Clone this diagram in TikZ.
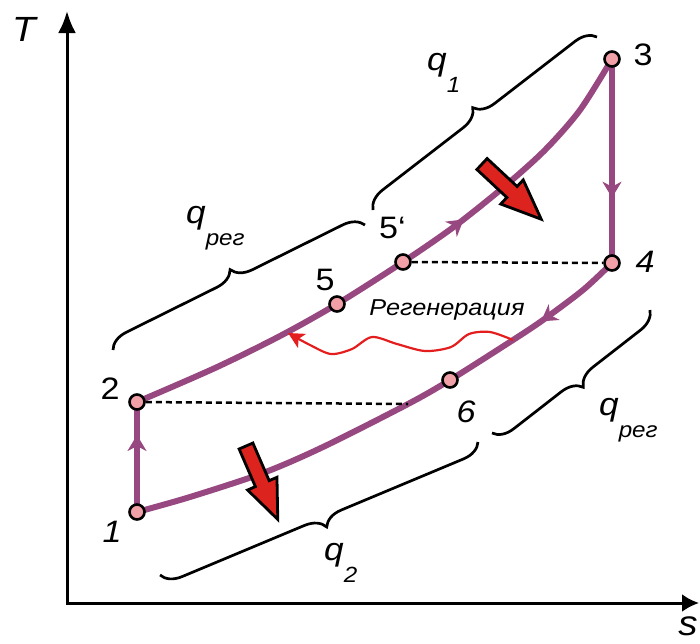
\documentclass[tikz,border=0pt]{standalone}
\usepackage{fontspec}
\setmainfont{Liberation Sans}[FakeStretch=1.1]
\usetikzlibrary{arrows.meta,decorations.pathreplacing,decorations.markings}
\definecolor{cycpurple}{RGB}{152,72,128}
\definecolor{ptpink}{RGB}{240,160,166}
\definecolor{arrred}{RGB}{220,35,30}
\definecolor{wavered}{RGB}{228,30,30}
\tikzset{
  cyc/.tip={Stealth[length=16pt,width=19pt,inset=5pt]},
  cycline/.style={line width=6pt, color=cycpurple},
  arrmark/.style={postaction={decorate}, decoration={markings, mark=at position #1 with {\arrow{cyc}}}},
  ptnode/.style={circle, draw=black, fill=ptpink, line width=2.6pt, inner sep=0pt, minimum size=15pt},
  brc/.style={draw=black, line width=2.7pt, decorate, decoration={brace, amplitude=20pt}},
  brcm/.style={draw=black, line width=2.7pt, decorate, decoration={brace, mirror, amplitude=20pt}},
  dsh/.style={draw=black, line width=2.5pt, dash pattern=on 6pt off 4pt},
  lab/.style={inner sep=0pt, font=\fontsize{31}{31}\selectfont},
  labi/.style={inner sep=0pt, font=\fontsize{31}{31}\selectfont\itshape},
  axlab/.style={inner sep=0pt, font=\fontsize{35}{35}\selectfont\itshape},
  qlab/.style={anchor=base west, inner sep=0pt, font=\fontsize{32}{32}\selectfont\itshape},
  redarrow/.style={fill=arrred, draw=black, line width=2.8pt, line join=miter},
  redwave/.style={draw=wavered, line width=2.2pt},
  axis/.style={draw=black, line width=3pt},
}
\newcommand{\qsub}[1]{\raisebox{-22pt}{\fontsize{22}{22}\selectfont\itshape #1}}
\begin{document}
\begin{tikzpicture}[x=1pt,y=-1pt]
\useasboundingbox (0,0) rectangle (700,643);

% axes
\coordinate (o) at (67,603);
\coordinate (ty) at (67,11);
\coordinate (sx) at (699,603);
\draw[axis, {Latex[length=22pt,width=18pt]}-{Latex[length=17pt,width=18pt]}] (ty) -- (o) -- (sx);
\node[axlab] (T) at (24,29) {T};
\node[axlab] (s) at (688,626) {s};

% cycle points
\coordinate (p1) at (137,512);
\coordinate (p2) at (137,402);
\coordinate (p3) at (612,59);
\coordinate (p4) at (612,263);
\coordinate (p5) at (337,304);
\coordinate (p5p) at (403,262);
\coordinate (p6) at (450,380);
\coordinate (d6) at (408,404);

% braces
\draw[brc] (373,210) -- (597,37);
\draw[brc] (113,350) -- (365,225);
\draw[brcm] (492,433) -- (650,310);
\draw[brcm] (160,575) -- (478,442);

% cycle lines
\draw[cycline, arrmark=0.63] plot[smooth] coordinates {(p2) (215,368) (280,336) (p5) (p5p) (455,226) (505,186) (545,150) (580,110) (p3)};
\draw[cycline, arrmark=0.68] (p3) -- (p4);
\draw[cycline, arrmark=0.17] plot[smooth] coordinates {(p4) (583,290) (543,320) (513,340) (p6) (d6) (323,447) (263,473) (190,497) (p1)};
\draw[cycline, arrmark=0.70] (p1) -- (p2);

% regeneration wave
\coordinate (w1) at (513,340);
\coordinate (w2) at (288,333);
\draw[redwave, -{Stealth[length=16pt,width=16pt,inset=4pt]}] plot[smooth] coordinates {(w1) (490,332) (469,334) (451,347) (425,351) (397,344) (372,337) (352,349) (331,354) (310,345) (w2)};
\node[inner sep=0pt, anchor=base, font=\fontsize{23}{23}\selectfont\itshape] (reg) at (447,315) {Регенерация};

% block arrows
\begin{scope}[shift={(482,164)}, rotate=-43]
  \draw[redarrow] (0,-7.5) -- (41,-7.5) -- (41,-16.5) -- (81,0) -- (41,16.5) -- (41,7.5) -- (0,7.5) -- cycle;
\end{scope}
\begin{scope}[shift={(246,446)}, rotate=-66.6]
  \draw[redarrow] (0,-7.5) -- (41,-7.5) -- (41,-16) -- (80,0) -- (41,16) -- (41,7.5) -- (0,7.5) -- cycle;
\end{scope}

% point markers
\node[ptnode] (n1) at (p1) {};
\node[ptnode] (n2) at (p2) {};
\node[ptnode] (n3) at (p3) {};
\node[ptnode] (n4) at (p4) {};
\node[ptnode] (n5) at (p5) {};
\node[ptnode] (n5p) at (p5p) {};
\node[ptnode] (n6) at (p6) {};

% dashed lines
\draw[dsh] (n2) -- (d6);
\draw[dsh] (n5p) -- (n4);

% point labels
\node[labi] (l1) at (112,532) {1};
\node[lab] (l2) at (110,389) {2};
\node[lab] (l3) at (643,55) {3};
\node[labi] (l4) at (645,262) {4};
\node[lab] (l5) at (325,280) {5};
\node[lab, anchor=base west] (l5p) at (379,238) {5‘};
\node[labi] (l6) at (466,412) {6};

% q labels
\node[qlab] (q1) at (427,70) {q\qsub{1}};
\node[qlab] (qr1) at (186,223) {q\qsub{рег}};
\node[qlab] (qr2) at (599,415) {q\qsub{рег}};
\node[qlab] (q2) at (324,560) {q\qsub{2}};
\end{tikzpicture}
\end{document}
